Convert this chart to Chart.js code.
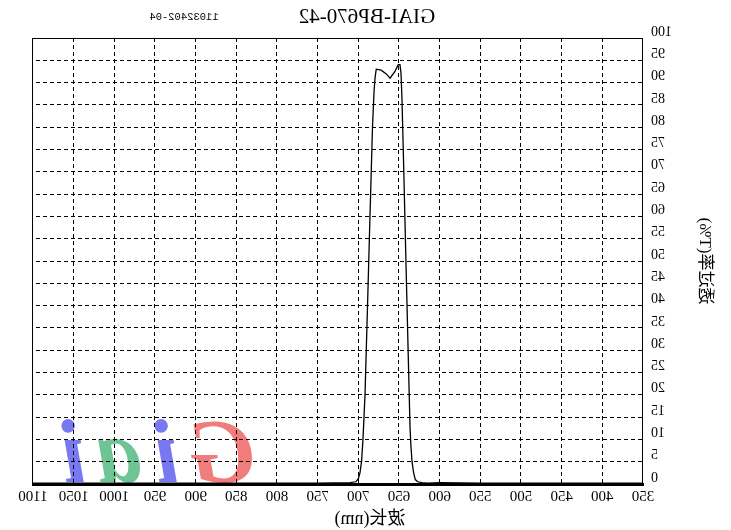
<!DOCTYPE html>
<html><head><meta charset="utf-8">
<script src="https://cdn.jsdelivr.net/npm/chart.js@4"></script>
<style>
html,body{margin:0;padding:0;background:#fff;}
#wrap{width:731px;height:530px;transform:scaleX(-1);transform-origin:center;}
canvas{display:block;}
</style></head><body>
<div id="wrap"><canvas id="c" width="731" height="530"></canvas></div>
<script>
const chartTitle = 'GIAI-BP670-42';
const lotNumber = '11032402-04';
const xAxisTitle = '波长(nm)';
const yAxisTitle = '透过率(T%)';
const wavelengths = [350,400,450,500,550,600,615,622,627,630,632,634,635.5,636.5,638.8,641.5,644.1,646.3,647.5,648.8,651,655,661,666,672,678,679.5,680.7,682.6,685.7,688.7,691.8,694.3,696.1,698,700,703,710,750,800,900,1000,1100];
const transmittance = [0.2,0.2,0.2,0.2,0.2,0.3,0.2,0.3,0.5,1.0,2.5,5,9,13,30,50,70,86,92,94,94,92.5,91,92,92.8,93,91,88,80,60,40,20,10,5,2.5,1.2,0.5,0.3,0.2,0.2,0.2,0.2,0.2];
const xTicks = [350,400,450,500,550,600,650,700,750,800,850,900,950,1000,1050,1100];
const yTicks = [0,5,10,15,20,25,30,35,40,45,50,55,60,65,70,75,80,85,90,95,100];
const watermarkLetters = ['G','i','a','i'];
const watermarkColors = ['rgba(240,110,110,0.9)','rgba(105,105,240,0.9)','rgba(95,190,135,0.9)','rgba(105,105,240,0.9)'];

const serif = "'Liberation Serif','Noto Sans CJK SC',serif";

const extras = {
  id:'extras',
  beforeDraw(chart){
    const {ctx} = chart;
    ctx.save();
    ctx.fillStyle='#fff';
    ctx.fillRect(0,0,chart.width,chart.height);
    ctx.font = "italic bold 90px 'Liberation Serif',serif";
    ctx.textBaseline='alphabetic';
    ctx.textAlign='left';
    const xs=[476,552,590,645];
    watermarkLetters.forEach((l,i)=>{ctx.fillStyle=watermarkColors[i];ctx.fillText(l,xs[i],482);});
    ctx.restore();
  },
  afterDraw(chart){
    const {ctx, chartArea:a} = chart;
    ctx.save();
    ctx.strokeStyle='#000';
    ctx.lineWidth=1;
    ctx.strokeRect(Math.round(a.left)+0.5, Math.round(a.top)+0.5, Math.round(a.right-a.left), Math.round(a.bottom-a.top));
    ctx.fillStyle='#000';
    ctx.textAlign='center';
    ctx.textBaseline='middle';
    ctx.font="21px "+serif;
    ctx.fillText(chartTitle,364,17);
    ctx.font="10.5px 'Liberation Mono',monospace";
    ctx.fillText(lotNumber,547,17);
    ctx.font="18px "+serif;
    ctx.fillText(xAxisTitle,361,519);
    ctx.restore();
  }
};

new Chart(document.getElementById('c'),{
  type:'line',
  data:{datasets:[{
    data: wavelengths.map((w,i)=>({x:w,y:transmittance[i]})),
    borderColor:'#000', borderWidth:1.3, pointRadius:0, tension:0, fill:false
  }]},
  options:{
    responsive:false, animation:false,
    layout:{padding:{left:0,right:33,top:38,bottom:0}},
    plugins:{legend:{display:false}, tooltip:{enabled:false}, title:{display:false}},
    scales:{
      x:{type:'linear',min:350,max:1100,
        afterBuildTicks:s=>{s.ticks=xTicks.map(v=>({value:v}));},
        afterFit:s=>{s.height=46;},
        grid:{color:'#000',lineWidth:1,drawTicks:false},
        border:{display:true,color:'#000',width:3,dash:[4,3]},
        ticks:{color:'#000',font:{family:serif,size:15},padding:4,maxRotation:0,autoSkip:false,callback:v=>String(v)}
      },
      y:{min:0,max:100,position:'left',
        afterBuildTicks:s=>{s.ticks=yTicks.map(v=>({value:v}));},
        afterFit:s=>{s.width=88;},
        grid:{color:'#000',lineWidth:1,drawTicks:false},
        border:{display:true,color:'#000',width:1,dash:[4,3]},
        ticks:{color:'#000',font:{family:serif,size:14},padding:8,labelOffset:-6,autoSkip:false,callback:v=>String(v)},
        title:{display:true,text:yAxisTitle,color:'#000',font:{family:serif,size:17},padding:{top:16,bottom:0}}
      }
    }
  },
  plugins:[extras]
});
</script>
</body></html>
